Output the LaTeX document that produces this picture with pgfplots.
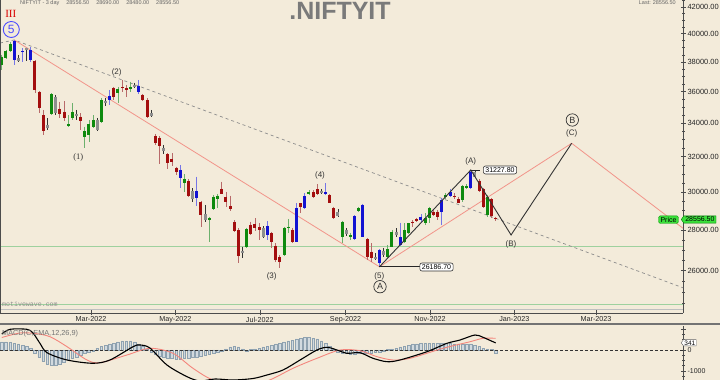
\documentclass[border=0pt]{standalone}
\usepackage{fontspec}
\setmainfont{Liberation Sans}
\newfontfamily\seriffont{Liberation Serif}
\newfontfamily\monofont{Liberation Mono}
\usepackage{pgfplots}
\pgfplotsset{compat=1.18}
\usepackage{pgfplotstable}
\usetikzlibrary{shapes.symbols}

\definecolor{bg}{HTML}{F3EBDA}
\definecolor{cred}{HTML}{A30E0E}
\definecolor{credw}{HTML}{B86A6A}
\definecolor{cgreen}{HTML}{0E8A0E}
\definecolor{cgreenw}{HTML}{6CB06C}
\definecolor{cblue}{HTML}{1212D2}
\definecolor{cbluew}{HTML}{7575E6}
\definecolor{cgray}{HTML}{8E8E8E}
\definecolor{salmon}{HTML}{F2948A}
\definecolor{lgreen}{HTML}{9ED19E}
\definecolor{histc}{HTML}{8FA2B0}
\definecolor{pgreen}{HTML}{3BE03B}
\definecolor{wavec}{HTML}{333333}

% d = day since 1 Jan 2022 ; o h l c
\pgfplotstableread{
d o h l c
18.5 38070 38140 35900 36120
21.5 36010 36050 34620 34930
24.5 34510 34830 33280 33520
36.5 34890 35360 34310 34560
39.5 34720 35400 34140 34310
51.5 34410 34620 33580 34140
75.5 36270 36330 35470 35680
81.5 36330 36780 36010 36230
84.5 36230 36450 35680 36120
96.5 35790 35860 35400 35470
99.5 35470 35580 34310 34410
105.5 33220 33340 32680 32820
108.5 33120 33220 31570 32620
114.5 32130 32190 31290 31640
117.5 31860 32190 31470 31670
120.5 31360 31420 30950 31130
129.5 30610 30720 29750 29800
138.5 29480 29520 28170 28770
153.5 30170 30570 29880 29890
156.5 29750 30020 29210 29450
159.5 29250 29800 28980 29090
162.5 28430 28500 27910 27950
165.5 28000 28090 26360 26720
174.5 28260 28430 27750 27780
177.5 28290 28600 27950 28120
180.5 28150 28340 27500 28020
189.5 27830 27910 27080 27380
192.5 27210 27330 26430 26510
195.5 26670 26760 26150 26420
204.5 28000 28100 27330 27410
210.5 29390 29420 28860 29210
219.5 30000 30110 29660 29720
222.5 30150 30440 29840 29890
231.5 29840 29890 29390 29420
234.5 29130 29210 28550 28600
258.5 27530 27580 26510 26670
261.5 26920 27330 26430 26600
291.5 28430 28510 28170 28340
294.5 28550 28620 28410 28460
306.5 28950 29040 28720 28770
309.5 28950 29040 28510 28690
321.5 29790 29930 29610 29720
324.5 29610 29750 29390 29420
339.5 30630 30700 30020 30070
342.5 30170 30220 29140 29200
348.5 29620 29680 28630 28720
351.5 28600 28690 28480 28556.5
}\tRed

\pgfplotstableread{
d o h l c
-5.5 37800 38490 37450 38370
-2.5 38260 38840 38210 38770
0.5 38770 39430 38720 39250
30.5 34560 35900 34510 35840
42.5 33850 34510 33790 33930
45.5 34310 35250 34200 34680
54.5 33180 33790 32490 33520
57.5 33280 34200 32880 33930
60.5 33790 34510 33690 34200
66.5 34060 35580 34000 35470
78.5 35900 36330 35250 36160
87.5 36160 36670 36010 36330
126.5 30480 30990 29990 30720
144.5 28500 28690 27410 28630
147.5 29090 29840 29040 29750
150.5 29620 29880 29130 29800
171.5 27160 28120 27080 28050
198.5 26760 28170 26720 28120
201.5 28090 28570 27830 28170
216.5 29890 30110 29840 30000
240.5 27660 28480 27330 28430
246.5 27630 27860 27500 27750
252.5 29000 29200 28930 29130
273.5 26670 27250 26610 27030
276.5 27160 28000 27130 27910
285.5 27410 28340 27330 28000
288.5 27830 28380 27800 28340
300.5 28340 28860 28260 28600
303.5 28600 29210 28380 29130
315.5 29750 29930 29610 29840
327.5 29570 30390 29480 30330
330.5 30210 30440 30170 30330
345.5 28770 29840 28670 29750
}\tGreen

\pgfplotstableread{
d o h l c
3.5 39480 39550 37800 38140
9.5 38770 38960 38030 38680
15.5 38840 39030 38030 38140
72.5 35750 36120 35150 35470
93.5 36400 36780 35840 36010
123.5 31230 31510 30240 30760
135.5 30060 30850 29270 29690
186.5 28220 28460 27500 27750
207.5 27410 29390 27410 29130
213.5 29130 29930 29070 29790
228.5 29990 30480 29840 29890
249.5 27530 28770 27500 28720
255.5 29300 29360 27630 27660
267.5 26360 27030 26186.7 27000
282.5 27250 28380 27200 27630
297.5 28510 28830 28430 28690
312.5 28950 29660 28260 29570
318.5 29790 30150 29720 30020
333.5 30210 31227.8 30150 31130
}\tBlue

\pgfplotstableread{
d o h l c
6.5 38260 38490 38030 38070
12.5 38960 39000 38070 38820
27.5 33890 34310 33580 33690
33.5 35680 35790 34510 34620
48.5 34560 34830 34200 34470
63.5 34200 34330 33520 33580
69.5 35400 35600 35080 35250
90.5 36450 36580 36250 36330
102.5 34620 34830 34390 34470
111.5 32520 32680 32130 32330
132.5 30060 30210 29480 29620
141.5 28810 29300 28430 28510
168.5 26970 27160 26600 26840
183.5 28090 28200 27600 27660
225.5 30070 30170 29890 29930
237.5 28950 29070 28650 28720
243.5 28000 28090 27700 27800
264.5 26650 26840 26510 26580
270.5 26970 27100 26660 26760
279.5 27910 28090 27660 27750
336.5 31130 31220 30820 30850
}\tGray

\pgfplotstableread{
d v
-5.5 762
0.5 986
12.7 986
17.1 810
22.1 319
27.2 -129
41.7 -476
60.4 -633
72.7 -476
89.4 157
94.4 238
101.6 95
113.9 -714
128.4 -1271
137.8 -1476
148.7 -1381
161.6 -1429
176.1 -1357
186.2 -1190
197.8 -952
210.1 -476
222.3 0
229.6 129
236.8 0
244.0 -157
253.4 -129
262.8 -395
272.9 -557
282.3 -476
301.8 -81
316.3 319
325.7 476
336.5 714
342.3 605
349.5 395
351.5 341
}\tMacd

\pgfplotstableread{
d v
-5.5 595
7.7 810
18.5 786
29.4 633
41.7 157
56.1 -476
65.5 -605
85.0 -238
101.6 81
118.3 -157
132.7 -871
147.2 -1429
166.7 -1667
186.2 -1476
205.0 -871
222.3 -395
239.0 0
253.4 -33
265.7 -319
277.3 -476
289.6 -395
313.4 81
333.0 395
342.3 557
351.5 557
}\tSig

\pgfplotstableread{
d v
-5.5 381
-2.5 381
0.5 357
3.5 333
6.5 286
9.5 238
12.5 190
15.5 95
18.5 -143
21.5 -333
24.5 -524
27.5 -667
30.5 -714
33.5 -714
36.5 -667
39.5 -571
42.5 -476
45.5 -381
48.5 -333
51.5 -238
54.5 -143
57.5 -95
60.5 -48
63.5 95
66.5 190
69.5 238
72.5 286
75.5 333
78.5 381
81.5 429
84.5 429
87.5 429
90.5 381
93.5 286
96.5 190
99.5 48
102.5 -95
105.5 -190
108.5 -286
111.5 -333
114.5 -381
117.5 -381
120.5 -429
123.5 -429
126.5 -381
129.5 -381
132.5 -333
135.5 -333
138.5 -286
141.5 -238
144.5 -190
147.5 -143
150.5 -95
153.5 -48
156.5 48
159.5 143
162.5 190
165.5 143
168.5 48
171.5 -48
174.5 24
177.5 48
180.5 95
183.5 143
186.5 190
189.5 238
192.5 286
195.5 333
198.5 381
201.5 429
204.5 476
207.5 524
210.5 571
213.5 619
216.5 619
219.5 571
222.5 524
225.5 429
228.5 333
231.5 190
234.5 48
237.5 -95
240.5 -143
243.5 -143
246.5 -190
249.5 -190
252.5 -143
255.5 -143
258.5 -143
261.5 -143
264.5 -95
267.5 -95
270.5 -48
273.5 24
276.5 48
279.5 95
282.5 143
285.5 190
288.5 238
291.5 286
294.5 286
297.5 333
300.5 333
303.5 333
306.5 333
309.5 333
312.5 333
315.5 333
318.5 333
321.5 286
324.5 286
327.5 286
330.5 286
333.5 286
336.5 238
339.5 190
342.5 95
345.5 48
348.5 24
351.5 -143
}\tHist

\pgfplotsset{
  cwick/.style={draw=none, mark=none, forget plot,
    error bars/y dir=minus, error bars/y explicit, error bars/error mark=none,
    error bars/error bar style={draw=#1, line width=0.8pt, solid}},
  cbody/.style={draw=none, mark=none, forget plot,
    error bars/y dir=minus, error bars/y explicit, error bars/error mark=none,
    error bars/error bar style={draw=#1, line width=3pt, solid}},
}

\newcommand{\candles}[3]{%
  \addplot[cwick=#2] table[x=d, y=h, y error minus expr={\thisrow{h}-\thisrow{l}}] {#1};
  \addplot[cbody=#3] table[x=d, y expr={max(\thisrow{o},\thisrow{c})}, y error minus expr={abs(\thisrow{o}-\thisrow{c})}] {#1};
}

\begin{document}
\begin{tikzpicture}
\useasboundingbox (0,0) rectangle (720pt,380pt);
\fill[bg] (0,0) rectangle (720pt,380pt);

\begin{axis}[
  at={(0pt,67pt)}, anchor=south west, scale only axis,
  width=683pt, height=313pt,
  xmin=-6.77, xmax=486.87,
  ymode=log, ymin=24080, ymax=42538,
  axis x line*=bottom, axis y line*=right,
  axis line style={-, draw=black!70, line width=0.8pt},
  xtick={59,120,181,243,304,365,424},
  xticklabels={Mar-2022,May-2022,Jul-2022,Sep-2022,Nov-2022,Jan-2023,Mar-2023},
  ytick={26000,28000,30000,32000,34000,36000,38000,40000,42000},
  yticklabels={26000.00,28000.00,30000.00,32000.00,34000.00,36000.00,38000.00,40000.00,42000.00},
  minor ytick={24500,25000,25500,26500,27000,27500,28500,29000,29500,30500,31000,31500,32500,33000,33500,34500,35000,35500,36500,37000,37500,38500,39000,39500,40500,41000,41500,42500},
  tick align=center, major tick length=5pt, minor tick length=3pt,
  tick style={draw=black!70, line width=0.6pt},
  xticklabel style={font=\fontsize{7.2}{8}\selectfont, text=black!85, yshift=2pt},
  yticklabel style={font=\fontsize{7.5}{8}\selectfont, text=black!85, anchor=west, xshift=-1.5pt},
  clip=true,
]
% horizontal green lines
\addplot[lgreen, line width=0.9pt, forget plot] coordinates {(-6.77,27161) (486.87,27161)};
\addplot[lgreen, line width=0.9pt, forget plot] coordinates {(-6.77,24461) (486.87,24461)};
\addplot[black!25, line width=0.6pt, forget plot] coordinates {(-6.77,24254) (486.87,24254)};
% dashed trend line
\addplot[black!45, line width=0.7pt, dash pattern=on 3pt off 3pt, forget plot]
  coordinates {(-6.77,39339) (3.5,39554) (486.87,25206)};
% salmon channel line
\addplot[salmon, line width=0.8pt, forget plot]
  coordinates {(3.5,39554) (267.5,26186.7) (406.4,32781) (486.87,28087)};
% candles
\candles{\tRed}{credw}{cred}
\candles{\tGreen}{cgreenw}{cgreen}
\candles{\tBlue}{cbluew}{cblue}
\candles{\tGray}{black!80}{cgray}
% black wave projection
\addplot[black!80, line width=0.9pt, forget plot]
  coordinates {(267.5,26186.7) (333.5,31227.8) (362.6,27746) (406.4,32781)};
\addplot[black!85, line width=0.8pt, forget plot] coordinates {(267.5,26186.7) (296.8,26186.7)};
\addplot[black!85, line width=0.8pt, forget plot] coordinates {(333.5,31227.8) (340.5,31227.8)};
\end{axis}

% MACD panel
\begin{axis}[
  at={(0pt,0pt)}, anchor=south west, scale only axis,
  width=683pt, height=54pt,
  xmin=-6.77, xmax=486.87,
  ymin=-1429, ymax=1143,
  axis x line=none, axis y line*=right,
  axis line style={-, draw=black!70, line width=0.8pt},
  ytick={-1000,0,1000}, yticklabels={-1000,0,{}},
  minor ytick={-1250,-750,-500,-250,250,500,750},
  tick align=center, major tick length=5pt, minor tick length=3pt,
  tick style={draw=black!70, line width=0.6pt},
  yticklabel style={font=\fontsize{7}{8}\selectfont, text=black!85, anchor=west, xshift=-1.5pt},
  clip=true,
]
\addplot[ybar, bar width=2.6pt, fill=histc!40, draw=histc, line width=0.5pt, forget plot] table[x=d, y=v] {\tHist};
\addplot[black!80, line width=0.7pt, dash pattern=on 3pt off 2pt, forget plot] coordinates {(-6.77,0) (486.87,0)};
\addplot[salmon!90!red, line width=0.9pt, smooth, forget plot] table[x=d, y=v] {\tSig};
\addplot[black, line width=1.1pt, smooth, forget plot] table[x=d, y=v] {\tMacd};
\end{axis}

% frame bits
\draw[black!70, line width=1pt] (0.5pt,67pt) -- (0.5pt,380pt);
\draw[black!55, line width=2pt] (0pt,56pt) -- (720pt,56pt);

% title and header
\node[anchor=base, text=black!52, font=\fontsize{25}{25}\selectfont\bfseries] at (340pt,360.7pt) {.NIFTYIT};
\node[anchor=north west, text=black!60, font=\fontsize{5.5}{6}\selectfont, inner sep=0pt] at (20pt,379.3pt) {NIFTYIT - 3 day \quad 28556.50 \quad 28690.00 \quad 28480.00 \quad 28556.50};
\node[anchor=north east, text=black!60, font=\fontsize{5.5}{6}\selectfont, inner sep=0pt] at (676pt,379.3pt) {Last: 28556.50};

% primary degree labels
\node[text=red!85!black, font=\seriffont\fontsize{11}{11}\selectfont, inner sep=0pt] at (10.8pt,366.2pt) {III};
\draw[blue!70, line width=0.9pt] (11.3pt,350.5pt) circle (8pt);
\node[text=blue!70, font=\fontsize{12}{12}\selectfont, inner sep=0pt] at (11.3pt,350.5pt) {5};

% wave labels
\begin{scope}[every node/.style={text=wavec, font=\fontsize{8}{9}\selectfont, inner sep=0pt}]
\node[font=\seriffont\fontsize{8.5}{9}\selectfont] at (78.3pt,222.7pt) {(1)};
\node at (116.7pt,307.7pt) {(2)};
\node at (271.7pt,104pt) {(3)};
\node at (320pt,205pt) {(4)};
\node at (379.3pt,104pt) {(5)};
\node at (470.7pt,219pt) {(A)};
\node at (511pt,135.7pt) {(B)};
\node at (571.7pt,246.7pt) {(C)};
\node[font=\fontsize{9}{9}\selectfont] at (380pt,93.3pt) {A};
\node[font=\fontsize{9}{9}\selectfont] at (572.3pt,260pt) {B};
\end{scope}
\draw[wavec, line width=0.7pt] (380pt,93.3pt) circle (6.2pt);
\draw[wavec, line width=0.7pt] (572.3pt,260pt) circle (6.2pt);

% value boxes
\node[draw=black!80, fill=white, rounded corners=2pt, line width=0.6pt, font=\fontsize{7}{8}\selectfont, inner xsep=2pt, inner ysep=1.5pt] at (436.5pt,113pt) {26186.70};
\node[draw=black!80, fill=white, rounded corners=2pt, line width=0.6pt, font=\fontsize{7}{8}\selectfont, inner xsep=2pt, inner ysep=1.5pt] at (500pt,210pt) {31227.80};

% price labels
\node[draw=green!60!black, fill=pgreen, rounded corners=1.5pt, line width=0.4pt, font=\fontsize{7}{8}\selectfont, inner xsep=2pt, inner ysep=1.2pt] at (668.5pt,160.3pt) {Price};
\node[signal, signal to=west, signal pointer angle=110, draw=green!50!black, fill=pgreen, line width=0.4pt, font=\fontsize{7}{8}\selectfont, inner xsep=1.5pt, inner ysep=1.2pt, anchor=west] at (681pt,160.5pt) {28556.50};

% MACD text and value label
\node[anchor=west, text=black!55, font=\fontsize{7.3}{8}\selectfont, inner sep=0pt] at (2pt,46pt) {MACD(C,EMA,12,26,9)};
\node[signal, signal to=west, signal pointer angle=110, draw=black!60, fill=white, line width=0.4pt, font=\fontsize{6.5}{7}\selectfont, inner xsep=1pt, inner ysep=0.8pt, anchor=west] at (681pt,37.2pt) {341};

% watermark
\node[anchor=west, text=black!45, font=\monofont\fontsize{6.6}{7}\selectfont, inner sep=0pt] at (2pt,76pt) {motivewave.com};
\end{tikzpicture}
\end{document}
